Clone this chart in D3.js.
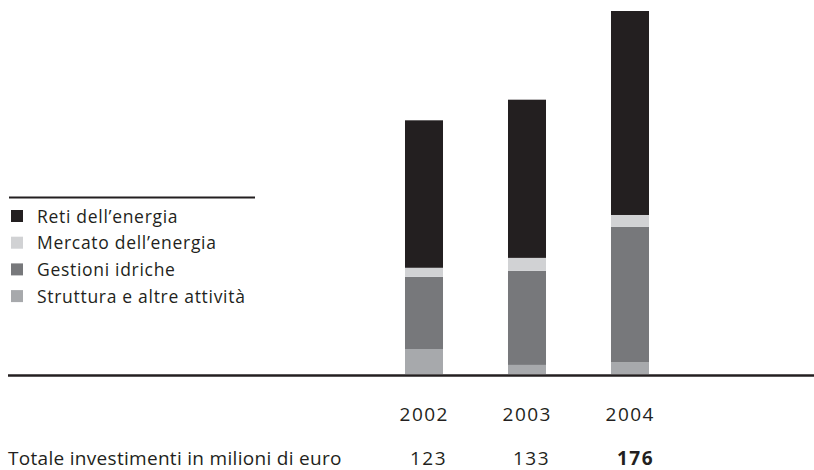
<!DOCTYPE html>
<html>
<head>
<meta charset="utf-8">
<script src="https://cdn.jsdelivr.net/npm/d3@7"></script>
<style>
  body { margin: 0; background: #fff; }
  text { font-family: "Open Sans", sans-serif; fill: #231f20; }
</style>
</head>
<body>
<div id="chart"></div>
<script>
const years = ["2002", "2003", "2004"];
const series = ["Struttura e altre attività", "Gestioni idriche", "Mercato dell’energia", "Reti dell’energia"];
const struttura = [12.1, 4.4, 5.8];
const gestioni = [35, 45.6, 65.5];
const mercato = [4.4, 6.3, 5.8];
const reti = [71.5, 76.7, 98.9];
const totals = [123, 133, 176];
const legendOrder = ["Reti dell’energia", "Mercato dell’energia", "Gestioni idriche", "Struttura e altre attività"];
const totalLabel = "Totale investimenti in milioni di euro";

const width = 814;
const height = 470;

const colors = {
  "Reti dell’energia": "#231f20",
  "Mercato dell’energia": "#d1d2d4",
  "Gestioni idriche": "#77787b",
  "Struttura e altre attività": "#a7a9ac"
};

const table = years.map((y, i) => ({
  year: y,
  "Struttura e altre attività": struttura[i],
  "Gestioni idriche": gestioni[i],
  "Mercato dell’energia": mercato[i],
  "Reti dell’energia": reti[i]
}));

const svg = d3
  .select("#chart")
  .append("svg")
  .attr("width", width)
  .attr("height", height);

const x = d3
  .scaleBand()
  .domain(years)
  .range([372.5, 681.5])
  .paddingInner(0.631)
  .paddingOuter(0.3155);

const y = d3.scaleLinear().domain([0, 176]).range([374, 11]);

const stacked = d3.stack().keys(series)(table);

svg
  .append("g")
  .selectAll("g")
  .data(stacked)
  .enter()
  .append("g")
  .attr("fill", (d) => colors[d.key])
  .selectAll("rect")
  .data((d) => d)
  .enter()
  .append("rect")
  .attr("x", (d) => x(d.data.year))
  .attr("width", x.bandwidth())
  .attr("y", (d) => y(d[1]))
  .attr("height", (d) => y(d[0]) - y(d[1]));

// baseline
svg
  .append("line")
  .attr("x1", 8)
  .attr("x2", width)
  .attr("y1", 375.5)
  .attr("y2", 375.5)
  .attr("stroke", "#231f20")
  .attr("stroke-width", 2.5);

// legend
const legend = svg.append("g");
legend
  .append("line")
  .attr("x1", 9)
  .attr("x2", 255)
  .attr("y1", 197.5)
  .attr("y2", 197.5)
  .attr("stroke", "#231f20")
  .attr("stroke-width", 2);

const item = legend
  .selectAll("g.item")
  .data(legendOrder)
  .enter()
  .append("g")
  .attr("class", "item")
  .attr("transform", (d, i) => `translate(11,${210 + i * 26.7})`);

item
  .append("rect")
  .attr("width", 12)
  .attr("height", 12)
  .attr("fill", (d) => colors[d]);

item
  .append("text")
  .attr("x", 26)
  .attr("y", 12.5)
  .attr("font-size", 17.5)
  .attr("letter-spacing", 0.7)
  .text((d) => d);

// years and totals
svg
  .append("g")
  .selectAll("text")
  .data(years)
  .enter()
  .append("text")
  .attr("x", (d) => x(d) + x.bandwidth() + 6)
  .attr("y", 421)
  .attr("text-anchor", "end")
  .attr("font-size", 19)
  .attr("letter-spacing", 1.5)
  .text((d) => d);

svg
  .append("g")
  .selectAll("text")
  .data(totals)
  .enter()
  .append("text")
  .attr("x", (d, i) => x(years[i]) + x.bandwidth() + (i === totals.length - 1 ? 5 : 4))
  .attr("y", 465)
  .attr("text-anchor", "end")
  .attr("font-size", 19)
  .attr("letter-spacing", 1.5)
  .attr("font-weight", (d, i) => (i === totals.length - 1 ? "bold" : "normal"))
  .text((d) => d);

svg
  .append("text")
  .attr("x", 8)
  .attr("y", 465)
  .attr("font-size", 19)
  .attr("letter-spacing", 0.3)
  .text(totalLabel);
</script>
</body>
</html>
